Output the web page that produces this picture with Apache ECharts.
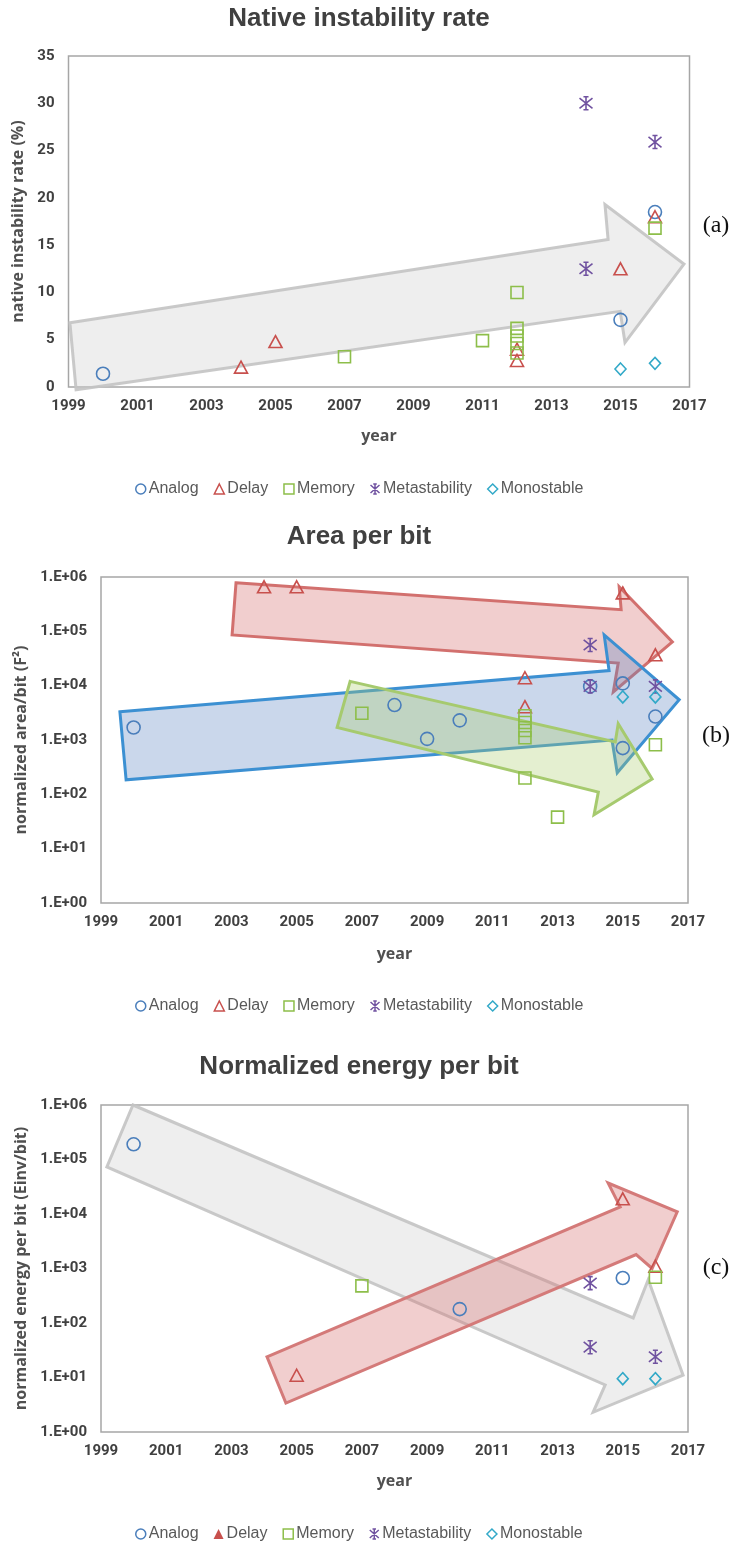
<!DOCTYPE html>
<html>
<head>
<meta charset="utf-8">
<script src="https://cdn.jsdelivr.net/npm/echarts@6/dist/echarts.min.js"></script>
<style>
  html, body { margin: 0; padding: 0; background: #ffffff; }
  #main { width: 747px; height: 1543px; }
</style>
</head>
<body>
<div id="main"></div>
<script>
// ---- axis ticks ----
const YEAR_MIN = 1999, YEAR_MAX = 2017, YEAR_STEP = 2;
const RATE_MIN = 0, RATE_MAX = 35, RATE_STEP = 5;
const LOG_MIN = 1, LOG_MAX = 1e6;

const categories = ['Analog', 'Delay', 'Memory', 'Metastability', 'Monostable'];

// ---- (a) native instability rate (%) : [year, value] ----
const rateAnalog = [[2000, 1.4], [2015, 7.1], [2016, 18.5]];
const rateDelay = [[2004, 2.1], [2005, 4.8], [2012, 2.8], [2012, 4.0], [2015, 12.5], [2016, 18.0]];
const rateMemory = [[2007, 3.2], [2011, 4.9], [2012, 10.0], [2012, 6.2], [2012, 5.4], [2012, 4.6], [2012, 3.6], [2016, 16.8]];
const rateMetastability = [[2014, 30.0], [2014, 12.5], [2016, 25.9]];
const rateMonostable = [[2015, 1.9], [2016, 2.5]];

// ---- (b) normalized area per bit (F^2) ----
const areaAnalog = [[2000, 1700], [2008, 4400], [2009, 1050], [2010, 2300], [2014, 9700], [2015, 11000], [2015, 710], [2016, 2700]];
const areaDelay = [[2004, 6.6e5], [2005, 6.6e5], [2012, 1.4e4], [2012, 4100], [2015, 5.1e5], [2016, 3.7e4]];
const areaMemory = [[2007, 3100], [2012, 2800], [2012, 2100], [2012, 1500], [2012, 1100], [2012, 200], [2013, 38], [2016, 820]];
const areaMetastability = [[2014, 5.6e4], [2014, 9700], [2016, 9700]];
const areaMonostable = [[2015, 6200], [2016, 6200]];

// ---- (c) normalized energy per bit (Einv/bit) ----
const energyAnalog = [[2000, 1.9e5], [2010, 180], [2015, 670]];
const energyDelay = [[2005, 11], [2015, 1.9e4], [2016, 1100]];
const energyMemory = [[2007, 480], [2016, 690]];
const energyMetastability = [[2014, 540], [2014, 36], [2016, 24]];
const energyMonostable = [[2015, 9.5], [2016, 9.5]];

// ---- trend arrows, outlined in data units [year, value] ----
const trendRate = [[1999.04, 6.8], [2014.64, 15.6], [2014.55, 19.3], [2016.84, 13.0], [2015.13, 4.7], [2014.99, 8.0], [1999.22, -0.3]];
const trendAreaDelay = [[2003.14, 7.8e5], [2014.95, 2.5e5], [2014.89, 6.6e5], [2016.52, 6.4e4], [2014.71, 7.7e3], [2014.86, 2.6e4], [2003.02, 8.6e4]];
const trendAreaAnalog = [[1999.58, 3.3e3], [2014.58, 1.9e4], [2014.43, 8.6e4], [2016.73, 5.5e3], [2014.83, 250], [2014.67, 1.0e3], [1999.77, 185]];
const trendAreaMemory = [[2006.64, 1.2e4], [2014.77, 920], [2014.86, 2.0e3], [2015.90, 192], [2014.12, 42], [2014.25, 110], [2006.24, 1.7e3]];
const trendEnergyAll = [[1999.98, 1.0e6], [2015.32, 124], [2015.78, 620], [2016.85, 11], [2014.09, 2.3], [2014.46, 7.3], [1999.18, 7.3e4]];
const trendEnergyDelay = [[2004.09, 24], [2014.92, 1.35e4], [2014.55, 3.7e4], [2016.67, 1.1e4], [2015.90, 1.0e3], [2015.41, 1.8e3], [2004.67, 3.4]];

// ---- styling ----
const COLORS = {
  Analog: '#4A7EBB',
  Delay: '#C8504D',
  Memory: '#8DBE4A',
  Metastability: '#7052A0',
  Monostable: '#32A9C8'
};
const STAR = 'path://M-0.35,-1L0.35,-1M0,-1L0,1M-0.35,1L0.35,1M-0.9,-0.8L0.9,0.8M-0.9,0.8L0.9,-0.8';
const SYMBOLS = {
  Analog: { symbol: 'circle', size: 13 },
  Delay: { symbol: 'triangle', size: [13, 12] },
  Memory: { symbol: 'rect', size: 12 },
  Metastability: { symbol: STAR, size: 13 },
  Monostable: { symbol: 'diamond', size: [11, 12] }
};
const TICK_FONT = { fontFamily: 'Roboto, sans-serif', fontWeight: 'bold', fontSize: 15, color: '#404040' };
const AXIS_NAME_FONT = { fontFamily: 'Open Sans, sans-serif', fontWeight: 'bold', fontSize: 16, color: '#505050' };
const TITLE_FONT = { fontFamily: 'Liberation Sans, sans-serif', fontWeight: 'bold', fontSize: 26, color: '#404040' };
const HOLLOW = 'rgba(0,0,0,0)';

const panels = [
  { series: [rateAnalog, rateDelay, rateMemory, rateMetastability, rateMonostable] },
  { series: [areaAnalog, areaDelay, areaMemory, areaMetastability, areaMonostable] },
  { series: [energyAnalog, energyDelay, energyMemory, energyMetastability, energyMonostable] }
];

function expLabel(v) {
  const e = Math.round(Math.log10(v));
  return '1.E+' + (e < 10 ? '0' : '') + e;
}

function scatterSeries(gridIndex, name, points) {
  const s = SYMBOLS[name];
  return {
    type: 'scatter',
    name: name,
    xAxisIndex: gridIndex,
    yAxisIndex: gridIndex,
    data: points,
    symbol: s.symbol,
    symbolSize: s.size,
    z: 5,
    itemStyle: { color: HOLLOW, borderColor: COLORS[name], borderWidth: 1.6, opacity: 1 },
    emphasis: { disabled: true }
  };
}

function arrowSeries(gridIndex, pts, fill, stroke, z) {
  return {
    type: 'custom',
    xAxisIndex: gridIndex,
    yAxisIndex: gridIndex,
    data: [pts[0]],
    clip: false,
    silent: true,
    z: z,
    renderItem: function (params, api) {
      return {
        type: 'polygon',
        shape: { points: pts.map(function (p) { return api.coord(p); }) },
        style: { fill: fill, stroke: stroke, lineWidth: 3, lineJoin: 'miter' }
      };
    }
  };
}

function legendFor(top, filledDelay) {
  return {
    left: 130,
    top: top,
    orient: 'horizontal',
    itemWidth: 10,
    itemHeight: 10,
    itemGap: 15,
    textStyle: { fontFamily: 'Liberation Sans, sans-serif', fontSize: 16, color: '#595959', padding: [0, 0, 0, -2] },
    data: categories.map(function (name) {
      const filled = filledDelay && name === 'Delay';
      return {
        name: name,
        icon: SYMBOLS[name].symbol,
        itemStyle: {
          color: filled ? COLORS[name] : HOLLOW,
          borderColor: COLORS[name],
          borderWidth: filled ? 0 : 1.5
        }
      };
    })
  };
}

const gridBox = { show: true, borderColor: '#A6A6A6', borderWidth: 1.5, backgroundColor: 'transparent' };

function xAxisFor(gridIndex, gap) {
  return {
    type: 'value', gridIndex: gridIndex,
    min: YEAR_MIN, max: YEAR_MAX, interval: YEAR_STEP,
    axisLine: { show: false }, axisTick: { show: false }, splitLine: { show: false },
    axisLabel: Object.assign({ margin: 12, formatter: function (v) { return String(v); } }, TICK_FONT),
    name: 'year', nameLocation: 'middle', nameGap: gap, nameTextStyle: AXIS_NAME_FONT
  };
}

const option = {
  backgroundColor: '#ffffff',
  animation: false,
  title: [
    { text: 'Native instability rate', left: 354, top: 1, textAlign: 'center', textStyle: TITLE_FONT },
    { text: 'Area per bit', left: 354, top: 519, textAlign: 'center', textStyle: TITLE_FONT },
    { text: 'Normalized energy per bit', left: 354, top: 1049, textAlign: 'center', textStyle: TITLE_FONT }
  ],
  legend: [legendFor(476, false), legendFor(993, false), legendFor(1521, true)],
  grid: [
    Object.assign({ left: 68.5, top: 56, width: 621, height: 331 }, gridBox),
    Object.assign({ left: 101, top: 577, width: 587, height: 326 }, gridBox),
    Object.assign({ left: 101, top: 1105, width: 587, height: 327 }, gridBox)
  ],
  xAxis: [xAxisFor(0, 41), xAxisFor(1, 43), xAxisFor(2, 41)],
  yAxis: [
    {
      type: 'value', gridIndex: 0, min: RATE_MIN, max: RATE_MAX, interval: RATE_STEP,
      axisLine: { show: false }, axisTick: { show: false }, splitLine: { show: false },
      axisLabel: Object.assign({ margin: 14 }, TICK_FONT),
      name: 'native instability rate (%)', nameLocation: 'middle', nameGap: 33, nameTextStyle: AXIS_NAME_FONT
    },
    {
      type: 'log', logBase: 10, gridIndex: 1, min: LOG_MIN, max: LOG_MAX,
      axisLine: { show: false }, axisTick: { show: false }, splitLine: { show: false },
      axisLabel: Object.assign({ margin: 14, formatter: expLabel }, TICK_FONT),
      name: 'normalized area/bit (F²)', nameLocation: 'middle', nameGap: 65, nameTextStyle: AXIS_NAME_FONT
    },
    {
      type: 'log', logBase: 10, gridIndex: 2, min: LOG_MIN, max: LOG_MAX,
      axisLine: { show: false }, axisTick: { show: false }, splitLine: { show: false },
      axisLabel: Object.assign({ margin: 14, formatter: expLabel }, TICK_FONT),
      name: 'normalized energy per bit (Einv/bit)', nameLocation: 'middle', nameGap: 67, nameTextStyle: AXIS_NAME_FONT
    }
  ],
  graphic: [
    { type: 'text', x: 716, y: 226, style: { text: '(a)', font: '24px "Liberation Serif"', fill: '#111111', textAlign: 'center', textVerticalAlign: 'middle', align: 'center', verticalAlign: 'middle' } },
    { type: 'text', x: 716, y: 736, style: { text: '(b)', font: '24px "Liberation Serif"', fill: '#111111', textAlign: 'center', textVerticalAlign: 'middle', align: 'center', verticalAlign: 'middle' } },
    { type: 'text', x: 716, y: 1268, style: { text: '(c)', font: '24px "Liberation Serif"', fill: '#111111', textAlign: 'center', textVerticalAlign: 'middle', align: 'center', verticalAlign: 'middle' } }
  ],
  series: []
};

// trend arrows beneath the markers
option.series.push(arrowSeries(0, trendRate, 'rgba(205,205,205,0.35)', 'rgba(195,195,195,0.9)', 1));
option.series.push(arrowSeries(1, trendAreaDelay, 'rgba(215,115,115,0.35)', '#D2706E', 1));
option.series.push(arrowSeries(1, trendAreaAnalog, 'rgba(95,135,195,0.33)', '#3C90D2', 2));
option.series.push(arrowSeries(1, trendAreaMemory, 'rgba(170,205,110,0.32)', '#A6CA6E', 3));
option.series.push(arrowSeries(2, trendEnergyAll, 'rgba(205,205,205,0.35)', 'rgba(195,195,195,0.9)', 1));
option.series.push(arrowSeries(2, trendEnergyDelay, 'rgba(215,115,115,0.35)', '#D47A79', 2));

panels.forEach(function (panel, gi) {
  panel.series.forEach(function (pts, k) {
    option.series.push(scatterSeries(gi, categories[k], pts));
  });
});

const chart = echarts.init(document.getElementById('main'));
chart.setOption(option);
</script>
</body>
</html>
